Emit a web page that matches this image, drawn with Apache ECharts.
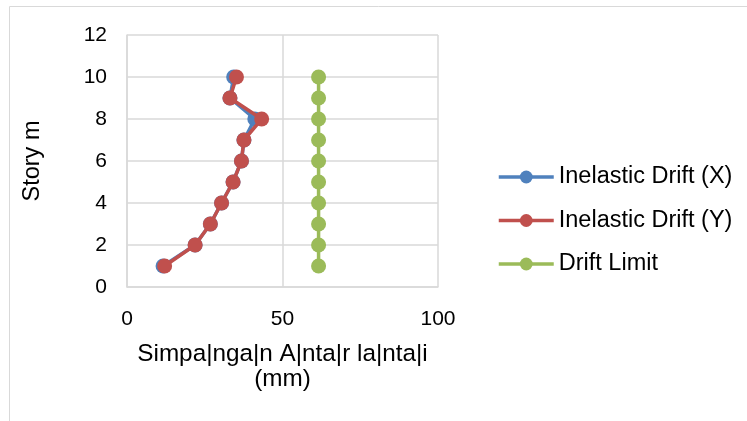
<!DOCTYPE html>
<html><head><meta charset="utf-8">
<script src="https://cdn.jsdelivr.net/npm/echarts@6/dist/echarts.min.js"></script>
<style>html,body{margin:0;padding:0;background:#fff}#c{width:747px;height:421px}</style>
</head><body><div id="c"></div>
<script>
const stories = [1,2,3,4,5,6,7,8,9,10];
const driftX = [11.6,21.9,26.8,30.4,34.1,36.8,37.6,41.1,33.1,34.3];
const driftY = [12.1,21.9,26.8,30.4,34.1,36.8,37.6,43.3,33.1,35.2];
const driftLimit = [61.6,61.6,61.6,61.6,61.6,61.6,61.6,61.6,61.6,61.6];
const seriesNames = ['Inelastic Drift (X)','Inelastic Drift (Y)','Drift Limit'];
const colors = ['#4f81bd','#c0504d','#9bbb59'];
const xName = 'Simpa|nga|n A|nta|r la|nta|i\n(mm)';
const yName = 'Story m';

const font = 'Liberation Sans, Arial, sans-serif';
const pairs = v => v.map((x,i)=>[x,stories[i]]);
const mk = (name,vals,color,z) => ({
  name, type:'line', data:pairs(vals), z,
  symbol:'circle', symbolSize:15,
  lineStyle:{color, width:3.5}, itemStyle:{color},
  emphasis:{disabled:true}
});
const chart = echarts.init(document.getElementById('c'), null, {renderer:'canvas'});
chart.setOption({
  animation:false,
  textStyle:{fontFamily:font},
  graphic:[{type:'rect', shape:{x:9.5,y:6.5,width:760,height:440}, style:{fill:'none', stroke:'#d9d9d9', lineWidth:1}, z:-1}],
  grid:{left:127, right:309, top:35, bottom:134},
  legend:{
    orient:'vertical', left:497, top:165, padding:0, itemGap:19.5, itemWidth:55, itemHeight:16,
    lineStyle:{width:3.5},
    textStyle:{fontSize:23.5, color:'#000', fontFamily:font},
    data:seriesNames
  },
  xAxis:{
    type:'value', min:0, max:100, interval:50,
    name:xName, nameLocation:'middle', nameGap:55,
    nameTextStyle:{fontSize:24.3, color:'#000', lineHeight:25, fontFamily:font},
    axisLine:{show:true, lineStyle:{color:'#d9d9d9', width:1.5}},
    axisTick:{show:false},
    axisLabel:{fontSize:21, color:'#000', margin:22, fontFamily:font},
    splitLine:{show:true, lineStyle:{color:'#d9d9d9', width:1.5}}
  },
  yAxis:{
    type:'value', min:0, max:12, interval:2,
    name:yName, nameLocation:'middle', nameGap:82,
    nameTextStyle:{fontSize:23.5, color:'#000', fontFamily:font},
    axisLine:{show:true, lineStyle:{color:'#d9d9d9', width:1.5}},
    axisTick:{show:false},
    axisLabel:{fontSize:21, color:'#000', margin:20, fontFamily:font},
    splitLine:{show:true, lineStyle:{color:'#d9d9d9', width:1.5}}
  },
  series:[
    mk(seriesNames[0], driftX, colors[0], 2),
    mk(seriesNames[1], driftY, colors[1], 3),
    mk(seriesNames[2], driftLimit, colors[2], 2)
  ]
});
</script></body></html>
